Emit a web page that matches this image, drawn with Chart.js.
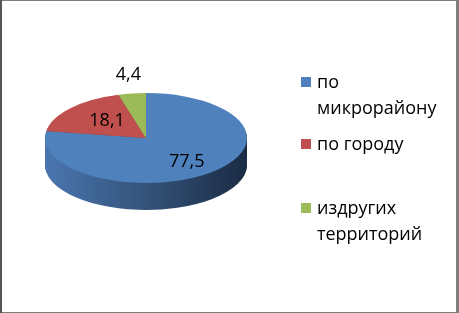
<!DOCTYPE html>
<html>
<head>
<meta charset="utf-8">
<script src="https://cdn.jsdelivr.net/npm/chart.js@4.4.1/dist/chart.umd.min.js"></script>
<style>
  html, body { margin: 0; padding: 0; background: #ffffff; }
  #wrap { position: relative; width: 459px; height: 313px; }
  canvas { display: block; }
</style>
</head>
<body>
<div id="wrap"><canvas id="c" width="459" height="313"></canvas></div>
<script>
// ---- data ----
const categories = ['по микрорайону', 'по городу', 'издругих территорий'];
const legendLines = [['по', 'микрорайону'], ['по городу'], ['издругих', 'территорий']];
const values = [77.5, 18.1, 4.4];
const valueLabels = ['77,5', '18,1', '4,4'];
const topColors = ['#4f81bd', '#c0504d', '#9bbb59'];
const sideColors = ['#34547e', '#7e3432', '#657a3a'];

const FONT = '"Open Sans", "Liberation Sans", sans-serif';

const pie3d = {
  id: 'pie3d',
  beforeDatasetsDraw(chart, args, opts) {
    const meta = chart.getDatasetMeta(0);
    const ctx = chart.ctx;
    const a0 = meta.data[0];
    const cx = a0.x, cy = a0.y, R = a0.outerRadius;
    const k = opts.ry / R;
    const grad = ctx.createLinearGradient(cx - R, 0, cx + R, 0);
    grad.addColorStop(0, '#4a76b0');
    grad.addColorStop(0.45, '#36577f');
    grad.addColorStop(1, '#1b2b44');
    const fills = sideColors.map((c, i) => i === 0 ? grad : c);
    const apply = (d) => {
      ctx.translate(0, d);
      ctx.translate(cx, cy);
      ctx.scale(1, k);
      ctx.translate(-cx, -cy);
    };
    for (let d = opts.depth; d >= 1; d--) {
      ctx.save();
      apply(d);
      meta.data.forEach((arc, i) => {
        const o = arc.options;
        arc.options = Object.assign({}, o, { backgroundColor: fills[i], borderWidth: 0 });
        arc.draw(ctx);
        arc.options = o;
      });
      ctx.restore();
    }
    ctx.save();
    apply(0);
    meta.data.forEach(arc => arc.draw(ctx));
    ctx.restore();

    // value labels
    ctx.save();
    ctx.font = opts.labelFont;
    ctx.fillStyle = '#000';
    ctx.textAlign = 'center';
    ctx.textBaseline = 'middle';
    meta.data.forEach((arc, i) => {
      const mid = (arc.startAngle + arc.endAngle) / 2;
      const r = R * opts.labelRadius[i];
      ctx.fillText(valueLabels[i], cx + Math.cos(mid) * r, cy + Math.sin(mid) * r * opts.labelK);
    });
    ctx.restore();
    return false;
  },
  afterDraw(chart, args, opts) {
    const ctx = chart.ctx;
    ctx.save();
    // legend
    ctx.font = opts.legendFont;
    ctx.textBaseline = 'alphabetic';
    ctx.textAlign = 'left';
    legendLines.forEach((lines, i) => {
      const top = opts.legendTops[i];
      ctx.fillStyle = topColors[i];
      ctx.fillRect(opts.legendX, top, 10, 10);
      ctx.fillStyle = '#000';
      lines.forEach((t, j) => {
        ctx.fillText(t, opts.legendX + 16, top + 11 + j * 26);
      });
    });
    // frame
    ctx.fillStyle = '#7f7f7f';
    ctx.fillRect(0, 0, 459, 1);
    ctx.fillRect(0, 312, 459, 1);
    ctx.fillRect(456, 0, 3, 313);
    ctx.fillStyle = '#555555';
    ctx.fillRect(0, 0, 2, 313);
    ctx.restore();
  }
};

new Chart(document.getElementById('c'), {
  type: 'pie',
  data: {
    labels: categories,
    datasets: [{
      data: values,
      backgroundColor: topColors,
      borderWidth: 0
    }]
  },
  options: {
    responsive: false,
    animation: false,
    events: [],
    layout: { padding: { left: 45, right: 212, top: 37, bottom: 74 } },
    plugins: {
      legend: { display: false },
      tooltip: { enabled: false },
      pie3d: {
        ry: 45,
        depth: 27,
        labelFont: '18px ' + FONT,
        labelRadius: [0.62, 0.515, 1.27],
        labelK: 0.5,
        legendFont: '18px ' + FONT,
        legendX: 301,
        legendTops: [77, 139, 203]
      }
    }
  },
  plugins: [pie3d]
});
</script>
</body>
</html>
